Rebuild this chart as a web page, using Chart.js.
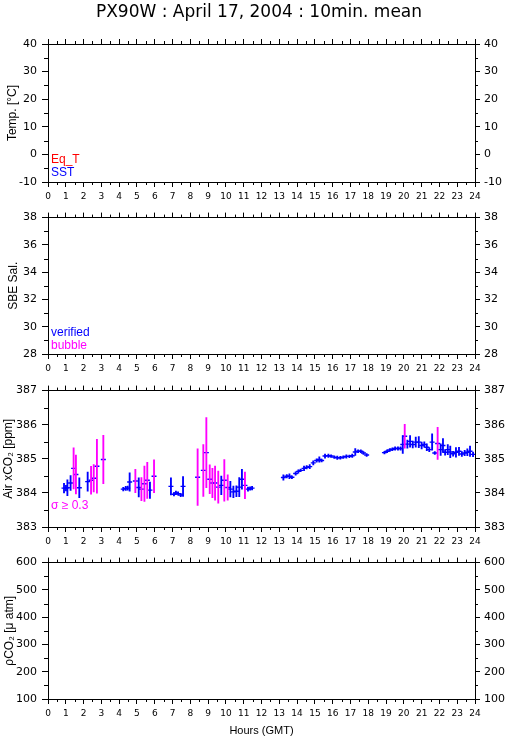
<!DOCTYPE html>
<html>
<head>
<meta charset="utf-8">
<script src="https://cdn.jsdelivr.net/npm/chart.js@4.4.1/dist/chart.umd.min.js"></script>
<style>
  body { margin: 0; background: #fff; width: 509px; height: 739px; position: relative; overflow: hidden; }
  canvas { position: absolute; left: 0; }
</style>
</head>
<body>
<canvas id="tempChart" width="509" height="206" style="top:0px"></canvas>
<canvas id="salChart" width="509" height="172" style="top:206px"></canvas>
<canvas id="co2Chart" width="509" height="172" style="top:379px"></canvas>
<canvas id="pco2Chart" width="509" height="188" style="top:551px"></canvas>
<script>
/* ====== Data ====== */
const hourTicks = [0,1,2,3,4,5,6,7,8,9,10,11,12,13,14,15,16,17,18,19,20,21,22,23,24];
const tempTicks = [-10, 0, 10, 20, 30, 40];
const salTicks = [28, 30, 32, 34, 36, 38];
const co2Ticks = [383, 384, 385, 386, 387];
const pco2Ticks = [100, 200, 300, 400, 500, 600];

// 10 min means of air xCO2, and their standard deviation
const co2Hours = [
  0.90, 1.01, 1.09, 1.27, 1.44, 1.57, 1.76, 2.23, 2.42, 2.57, 2.75, 3.11,
  4.23, 4.37, 4.48, 4.59, 4.91, 5.10, 5.25, 5.42, 5.58, 5.73, 5.96,
  6.91, 7.08, 7.19, 7.31, 7.46, 7.59,
  8.41, 8.73, 8.90, 9.09, 9.24, 9.39, 9.57, 9.74, 9.91, 10.10, 10.25, 10.42, 10.59, 10.75, 10.90, 11.07, 11.24, 11.36, 11.47,
  13.23, 13.42, 13.57, 13.71, 13.92, 14.07, 14.20, 14.39, 14.54, 14.71, 14.91, 15.10, 15.25, 15.38, 15.57,
  15.76, 15.91, 16.09, 16.26, 16.43, 16.60, 16.77, 16.94, 17.10, 17.27, 17.43, 17.58, 17.73, 17.91,
  18.91, 19.06, 19.21, 19.36, 19.51, 19.67, 19.82, 19.94, 20.05, 20.20, 20.35, 20.50, 20.67, 20.84, 21.00,
  21.15, 21.29, 21.43, 21.59, 21.74, 21.90, 22.07, 22.20, 22.32, 22.47, 22.61, 22.77, 22.93, 23.10, 23.26,
  23.42, 23.57, 23.72, 23.89
];
const co2Mean = [
  384.14, 384.14, 384.15, 384.29, 384.72, 384.54, 384.15, 384.33, 384.37, 384.43, 384.78, 384.98,
  384.11, 384.13, 384.14, 384.32, 384.35, 384.16, 384.11, 384.27, 384.37, 384.08, 384.49,
  384.19, 383.96, 384.00, 383.98, 383.94, 384.19,
  384.46, 384.66, 385.18, 384.40, 384.29, 384.29, 384.17, 384.22, 384.37, 384.16, 384.11, 384.03, 384.05, 384.17, 384.40, 384.22, 384.11, 384.13, 384.14,
  384.45, 384.49, 384.49, 384.46, 384.57, 384.63, 384.66, 384.72, 384.75, 384.77, 384.88, 384.95, 384.98, 384.95, 385.08,
  385.09, 385.08, 385.05, 385.03, 385.03, 385.05, 385.07, 385.07, 385.09, 385.20, 385.22, 385.22, 385.17, 385.11,
  385.18, 385.22, 385.26, 385.28, 385.30, 385.30, 385.30, 385.42, 385.66, 385.43, 385.51, 385.42, 385.49, 385.49, 385.39,
  385.42, 385.34, 385.27, 385.49, 385.17, 385.45, 385.27, 385.39, 385.19, 385.27, 385.20, 385.15, 385.19, 385.22, 385.14,
  385.17, 385.19, 385.22, 385.13
];
const co2Sigma = [
  0.14, 0.08, 0.23, 0.22, 0.60, 0.57, 0.29, 0.28, 0.41, 0.40, 0.79, 0.71,
  0.05, 0.06, 0.06, 0.27, 0.34, 0.28, 0.34, 0.52, 0.53, 0.24, 0.48,
  0.25, 0.05, 0.05, 0.05, 0.05, 0.29,
  0.83, 0.76, 1.03, 0.42, 0.43, 0.50, 0.47, 0.27, 0.61, 0.37, 0.23, 0.17, 0.16, 0.28, 0.29, 0.39, 0.06, 0.05, 0.05,
  0.08, 0.05, 0.07, 0.04, 0.05, 0.05, 0.04, 0.07, 0.05, 0.06, 0.06, 0.05, 0.08, 0.04, 0.06,
  0.05, 0.04, 0.04, 0.05, 0.04, 0.04, 0.05, 0.04, 0.05, 0.10, 0.04, 0.04, 0.04, 0.04,
  0.04, 0.04, 0.04, 0.04, 0.05, 0.05, 0.05, 0.26, 0.35, 0.12, 0.17, 0.10, 0.15, 0.16, 0.10,
  0.08, 0.10, 0.06, 0.24, 0.04, 0.47, 0.17, 0.20, 0.08, 0.15, 0.17, 0.07, 0.14, 0.12, 0.07,
  0.08, 0.10, 0.15, 0.07
];
const SIGMA_LIMIT = 0.3;

/* ====== Colours ====== */
const BLUE = "#0000ff";
const MAGENTA = "#ff00ff";
const RED = "#ff0000";

Chart.defaults.font.family = "DejaVu Sans";
Chart.defaults.color = "#000";

/* ====== Plugins ====== */
// short ticks half way between the labelled ones
const minorTicks = {
  id: "minorTicks",
  afterDraw(chart, args, o) {
    const { ctx, chartArea: a } = chart;
    ctx.save();
    ctx.strokeStyle = "#000";
    ctx.lineWidth = 1;
    ctx.beginPath();
    Object.values(chart.scales).forEach(s => {
      const step = s.axis === "x" ? o.x : o.y;
      for (let v = s.min + step; v < s.max - 1e-9; v += 2 * step) {
        const p = Math.round(s.getPixelForValue(v)) + 0.5;
        if (s.position === "bottom") { ctx.moveTo(p, a.bottom); ctx.lineTo(p, a.bottom + 3); }
        if (s.position === "top") { ctx.moveTo(p, a.top); ctx.lineTo(p, a.top - 3); }
        if (s.position === "left") { ctx.moveTo(a.left, p); ctx.lineTo(a.left - 4, p); }
        if (s.position === "right") { ctx.moveTo(a.right, p); ctx.lineTo(a.right + 3, p); }
      }
    });
    ctx.stroke();
    ctx.restore();
  }
};

const panelText = {
  id: "panelText",
  afterDraw(chart, args, o) {
    const ctx = chart.ctx;
    (o.items || []).forEach(t => {
      ctx.save();
      ctx.font = t.font || '12px "Liberation Sans"';
      ctx.fillStyle = t.color || "#000";
      ctx.textAlign = t.align || "left";
      ctx.textBaseline = "alphabetic";
      ctx.fillText(t.text, t.x, t.y);
      ctx.restore();
    });
  }
};

/* ====== Panel builder ====== */
function makePanel(id, p) {
  const yAxis = (pos, tl, pad, w) => ({
    type: "linear",
    position: pos,
    min: p.yTicks[0],
    max: p.yTicks[p.yTicks.length - 1],
    afterBuildTicks: s => { s.ticks = p.yTicks.map(v => ({ value: v })); },
    ticks: { padding: pad, font: { size: 11 } },
    grid: { drawOnChartArea: false, tickLength: tl, color: "#000" },
    border: { color: "#000" },
    title: pos === "left"
      ? { display: true, text: p.yTitle, font: { family: "Liberation Sans", size: 12 }, padding: { top: p.titlePad, bottom: 0 } }
      : { display: false },
    afterFit: s => { s.width = w; }
  });
  const xAxis = (pos, h) => ({
    type: "linear",
    position: pos,
    min: 0,
    max: 24,
    offset: false,
    afterBuildTicks: s => { s.ticks = hourTicks.map(v => ({ value: v })); },
    ticks: { display: pos === "bottom", autoSkip: false, maxRotation: 0, padding: 4, font: { size: 9 } },
    grid: { drawOnChartArea: false, offset: false, tickLength: 5, color: "#000" },
    border: { color: "#000" },
    title: pos === "bottom" && p.xTitle
      ? { display: true, text: p.xTitle, font: { family: "Liberation Sans", size: 11 }, padding: { top: 0, bottom: 1 } }
      : { display: false },
    afterFit: s => { s.height = h; }
  });

  return new Chart(document.getElementById(id), {
    type: p.type || "scatter",
    data: { datasets: p.datasets || [] },
    options: {
      responsive: false,
      animation: false,
      events: [],
      layout: { padding: { top: p.padTop || 0, left: 0, right: 0, bottom: 0 } },
      scales: {
        x: xAxis("bottom", p.bottomH || 24),
        xTop: xAxis("top", 10),
        y: yAxis("left", 6, 5, 48),
        yR: yAxis("right", 5, 4, 34)
      },
      plugins: {
        legend: { display: false },
        tooltip: { enabled: false },
        minorTicks: { x: 0.5, y: p.minorY },
        panelText: { items: p.texts || [] }
      }
    },
    plugins: [minorTicks, panelText]
  });
}

/* ====== Panels ====== */
makePanel("tempChart", {
  yTicks: tempTicks, minorY: 5, yTitle: "Temp. [°C]", titlePad: 5, padTop: 34,
  texts: [
    { text: "PX90W : April 17, 2004 : 10min. mean", x: 259, y: 17, align: "center", font: '17px "DejaVu Sans"' },
    { text: "Eq_T", x: 51, y: 163, color: RED },
    { text: "SST", x: 51, y: 175.5, color: BLUE }
  ]
});

makePanel("salChart", {
  yTicks: salTicks, minorY: 1, yTitle: "SBE Sal.", titlePad: 6.5,
  texts: [
    { text: "verified", x: 51, y: 130, color: BLUE },
    { text: "bubble", x: 51, y: 143, color: MAGENTA }
  ]
});

makePanel("co2Chart", {
  type: "bar",
  yTicks: co2Ticks, minorY: 0.5, yTitle: "Air xCO₂ [ppm]", titlePad: 1,
  texts: [{ text: "σ ≥ 0.3", x: 51, y: 129.5, color: MAGENTA }],
  datasets: [
    {
      type: "bar",
      data: co2Hours.map((h, i) => ({ x: h, y: [co2Mean[i] - co2Sigma[i], co2Mean[i] + co2Sigma[i]] })),
      backgroundColor: c => co2Sigma[c.dataIndex] >= SIGMA_LIMIT ? MAGENTA : BLUE,
      borderWidth: 0,
      barThickness: 1.2,
      grouped: false
    },
    {
      type: "scatter",
      data: co2Hours.map((h, i) => ({ x: h, y: co2Mean[i] })),
      pointStyle: "line",
      radius: 2.5,
      borderColor: BLUE,
      borderWidth: 1.4,
      showLine: false
    }
  ]
});

makePanel("pco2Chart", {
  yTicks: pco2Ticks, minorY: 50, yTitle: "ρCO₂ [μ atm]", titlePad: 2,
  xTitle: "Hours (GMT)", bottomH: 40
});
</script>
</body>
</html>
